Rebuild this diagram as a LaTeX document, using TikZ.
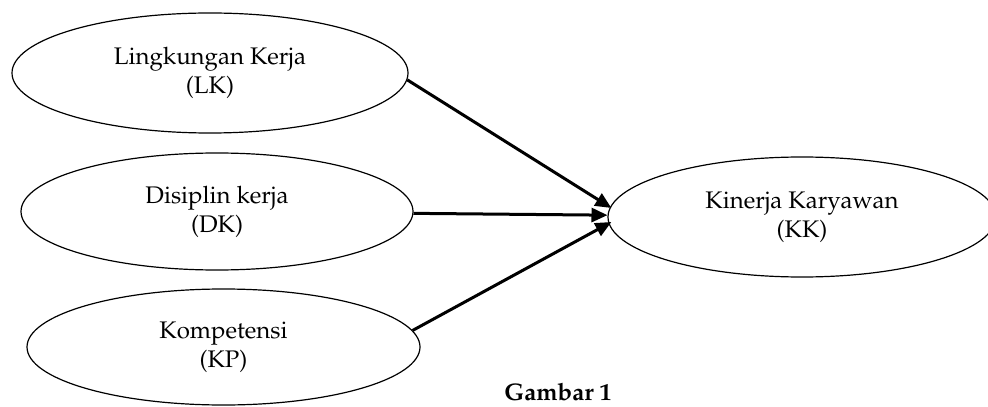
\documentclass[tikz,border=0pt]{standalone}
\usepackage[T1]{fontenc}
\usepackage{mathpazo}
\usetikzlibrary{shapes.geometric,arrows.meta}

\begin{document}
\begin{tikzpicture}[x=0.5pt,y=-0.5pt,
  konstruk/.style={draw, ellipse, line width=0.6pt, align=center, inner sep=0pt,
    font=\fontsize{12}{14.5}\selectfont},
  panah/.style={line width=1.5pt, -{Triangle[length=8pt,width=7pt]}}]
% Frame
\clip (0,0) rectangle (988,406);

% Variables
\node[konstruk, minimum width=198pt, minimum height=60pt] (lk) at (210,73) {Lingkungan Kerja\\(LK)};
\node[konstruk, minimum width=196pt, minimum height=58.5pt] (dk) at (217,211.5) {Disiplin kerja\\(DK)};
\node[konstruk, minimum width=196.5pt, minimum height=58pt] (kp) at (223.5,347) {Kompetensi\\(KP)};
\node[konstruk, minimum width=194pt, minimum height=60pt] (kk) at (802,217) {Kinerja Karyawan\\(KK)};

% Paths
\draw[panah] (lk.-2) -- ([shift={(2pt,4.5pt)}]kk.west);
\draw[panah] (dk) -- (kk);
\draw[panah] (kp.5) -- ([shift={(2pt,-2.5pt)}]kk.west);

% Caption
\node[anchor=base, inner sep=0pt, font=\bfseries\fontsize{12}{14}\selectfont] (gbr) at (558,400) {Gambar 1};
\end{tikzpicture}
\end{document}
